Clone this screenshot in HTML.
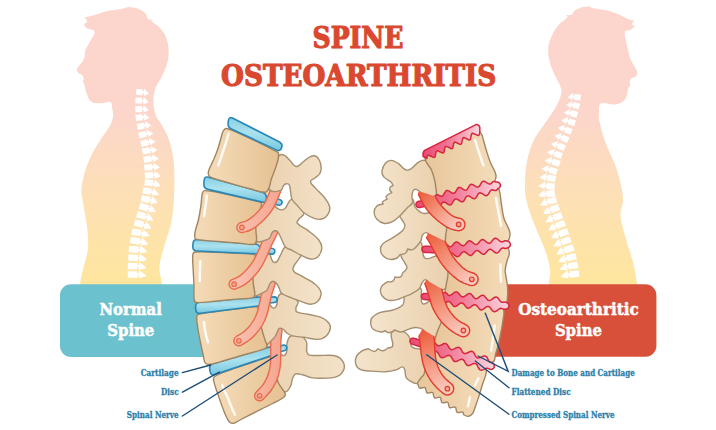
<!DOCTYPE html>
<html lang="en"><head><meta charset="utf-8"><title>Spine Osteoarthritis</title>
<style>
html,body{margin:0;padding:0;background:#fff}
svg{display:block}
.t{font-family:"DejaVu Serif Condensed","DejaVu Serif","Liberation Serif",serif;font-weight:bold}
.bone{fill:url(#gb);stroke:#a08563;stroke-width:1.4;stroke-linejoin:round}
.post{fill:url(#gp);stroke:#a59072;stroke-width:1.4;stroke-linejoin:round}
.disc{fill:url(#gd);stroke:#2b87b6;stroke-width:1.6;stroke-linejoin:round}
.nerve{fill:none;stroke-linecap:round}
.rdisc{fill:url(#gr);stroke:#d7263e;stroke-width:1.5;stroke-linejoin:round}
.rb{fill:url(#gbr)}
.rp{fill:url(#gpr)}
.lead{stroke:#1d4d78;stroke-width:1.4;fill:none;stroke-linecap:round}
.hl{fill:none;stroke:#fff;stroke-width:2.5;stroke-linecap:round;opacity:.85}
</style></head><body>
<svg width="716" height="430" viewBox="0 0 716 430">
<defs>
<linearGradient id="gs" x1="0" y1="0" x2="0" y2="1" gradientUnits="objectBoundingBox">
<stop offset="0" stop-color="#fcd6cd"/><stop offset=".38" stop-color="#fcd6cb"/><stop offset=".7" stop-color="#fde1b3"/><stop offset="1" stop-color="#fee69b"/>
</linearGradient>
<linearGradient id="gb" x1="0" y1="0" x2="1" y2="0">
<stop offset="0" stop-color="#f4dcb9"/><stop offset="1" stop-color="#e6c192"/>
</linearGradient>
<linearGradient id="gp" x1="0" y1="0" x2="1" y2="0">
<stop offset="0" stop-color="#ebd2b0"/><stop offset="1" stop-color="#f3e2ca"/>
</linearGradient>
<linearGradient id="gpr" x1="0" y1="0" x2="1" y2="0">
<stop offset="0" stop-color="#f4e4cd"/><stop offset="1" stop-color="#ead0ad"/>
</linearGradient>
<linearGradient id="gd" x1="0" y1="0" x2="0" y2="1">
<stop offset="0" stop-color="#86cfe4"/><stop offset=".45" stop-color="#abe2ef"/><stop offset="1" stop-color="#78c8df"/>
</linearGradient>
<linearGradient id="gn" gradientUnits="userSpaceOnUse" x1="230" y1="0" x2="285" y2="0"><stop offset="0" stop-color="#f9c4b4"/><stop offset="1" stop-color="#f5a38c"/></linearGradient>
<linearGradient id="gbr" x1="0" y1="0" x2="1" y2="0">
<stop offset="0" stop-color="#e8c69b"/><stop offset="1" stop-color="#f4dcba"/>
</linearGradient>
<linearGradient id="gr" x1="0" y1="0" x2="1" y2="0">
<stop offset="0" stop-color="#eb4a74"/><stop offset=".4" stop-color="#f0708f"/><stop offset="1" stop-color="#fbd6df"/>
</linearGradient>
</defs>
<rect width="716" height="430" fill="#fff"/>

<path d="M84.6 17.7C84.6 17.7 92 15.8 96.1 14.6C100.6 13.3 103.9 11.8 108.4 10.8C112.8 9.8 116.3 9.8 120.7 8.9C123.5 8.4 128.4 6.9 128.4 6.9C128.4 6.9 134.4 7.2 137.6 8.4C140.6 9.5 143 10.8 145.3 13.1C147 14.8 146.2 17.9 148.3 19.2C150 20.2 153.7 18.4 153.7 18.4C153.7 18.4 150.8 19.7 151.4 20.7C153.3 23.7 156.7 24.3 159.1 26.9C161.7 29.6 163.6 31.9 165.2 35.3C166.9 38.9 167.6 42.1 168.3 46.1C168.8 49.3 168.7 51.8 168.5 55C168.4 57.6 168.3 59.8 167.5 62.3C166 67.4 164.5 71.3 162.2 76.1C160.3 80.2 157.8 82.8 156 86.9C154.7 90 154.1 92.6 153.7 96C153.3 99.3 153.3 102 153.7 105.3C154.2 109.2 154.6 112.3 156 116C157.1 118.8 159.1 120.4 160.6 123C163.5 128.2 166.2 132.1 168.2 137.7C170.7 144.7 172.2 150.4 173.2 157.8C174.4 166.8 174.4 173.9 174.4 183C174.4 192 174 199 173.2 208C172.7 214.2 172.1 219 170.7 225C168.5 234.1 165.5 240.9 163.1 250C161.4 256.4 159.6 261.4 159.4 268C159.2 273.5 161.1 277.6 161.9 283C162.4 286.2 163 292 163 292C163 292 80 292 80 292C80 292 79.8 286.2 80.2 283C80.8 278.4 81.7 274.9 82.7 270.4C84.4 263.1 86.7 257.7 87.7 250.3C88.5 244 88.1 239 87.7 232.7C87.2 226.3 86.2 221.4 85.2 215C84.3 209.6 83.3 205.4 82.5 200C82 196.4 81.2 193.6 81.4 190C81.7 184.7 82.5 180.5 83.9 175.4C85.7 168.9 87.4 163.9 90.2 157.8C93.3 151.1 96.5 146.3 100.3 140C103.7 134.5 107.3 130.7 110.3 125C111.9 122 112.6 119.4 113 116C113.3 113.3 112.7 111.1 112.2 108.4C111.8 106.1 112.6 103.4 110.7 102.2C108.6 100.8 106.3 102.9 103.8 103C100.5 103.2 97.9 103.5 94.6 103C92.8 102.7 91.3 102 90 100.7C88.7 99.4 88.4 97.7 87.7 96C86.8 93.8 86.1 92.2 85.4 89.9C84.9 88.3 85 86.9 84.6 85.3C84.2 83.6 83.2 82.4 83 80.7C82.9 80.1 83.9 79.8 83.8 79.2C83.6 77.7 83.3 76.4 82.3 75.3C81.2 74.1 79.5 74.2 78.4 73C77.4 71.9 76.7 70.7 76.9 69.2C77.1 67.6 78.3 66.7 79.2 65.4C80.8 63.1 82.8 61.8 83.8 59.2C85.1 56.1 84.4 53.2 85.4 50C86.1 47.8 87.3 46.5 88.4 44.5C89.7 42.2 90.7 40.4 92 38C93 36.2 94.3 35 94.6 33C94.8 31.8 94.1 30.6 93 30C91.1 28.8 88.8 29.7 86.9 28.4C85.2 27.3 83.8 23.8 83.8 23.8C83.8 23.8 86.7 22.9 86.9 21.5C87.1 19.9 84.6 17.7 84.6 17.7Z" fill="url(#gs)"/>
<path d="M634.3 20.4C634.3 20.4 631.8 22.9 632 24.6C632.2 25.8 635.1 26.1 635.1 26.1C635.1 26.1 632.4 29 630.5 30C628.7 31 626 29.7 625.1 31.5C623.8 34.3 625.4 36.9 625.9 39.9C626.5 43.8 627.3 46.8 628.2 50.7C628.9 53.8 629.3 56.3 630.5 59.2C631.5 61.8 633 63.6 634.3 66.1C635.5 68.5 637.2 70.3 637.4 73C637.5 74.6 636.3 75.8 635.1 76.9C634 77.9 632.3 77.3 631.2 78.4C630.1 79.5 629.9 80.8 629.7 82.3C629.6 83.2 630.7 83.7 630.5 84.6C630.1 86.2 628.8 86.9 628.2 88.4C627.6 90 627.9 91.4 627.4 93C626.7 95.3 626.5 97.2 625.1 99.2C623.9 101 622.5 102.2 620.5 103C617.9 104.1 615.6 104.5 612.8 104.5C609.4 104.5 607 103 603.6 103C602.1 103 600.4 103.2 599.7 104.5C598.5 106.7 599.1 108.9 599 111.4C598.9 114.5 598.6 117 599.2 120C600.9 128.3 602.7 134.7 605.5 142.7C608.1 150.1 611.5 155.4 614.3 162.8C617 169.9 618.8 175.6 620.5 183C621.9 189.2 623 194.1 623 200.5C623 205.8 620.1 209.7 620.5 215C621.1 223.4 623.5 229.6 625.6 237.7C628 246.8 630.8 253.6 633.1 262.8C634.9 270 635.7 275.7 636.9 283C637.4 286.2 638 292 638 292C638 292 548 292 548 292C548 292 548.6 286.2 548.9 283C549.4 278.5 550.7 274.9 550.2 270.4C549.3 263 547.6 257.3 545.1 250.3C541.2 239.2 536.7 231.1 532.6 220C530 212.9 528 207.3 526.3 200C525.3 195.8 525 192.3 525 188C525 179.9 525 173.4 526.3 165.4C527.7 157 529.2 150.5 532.6 142.7C536 135 540.5 130 545.1 123C547.3 119.7 549.3 117.3 551.4 114C553.7 110.4 555.7 107.7 557.5 103.8C559.3 100.1 560.6 97.1 561.3 93C561.7 90.8 561.3 89 560.6 86.9C559.4 83.4 557.5 81 556 77.6C553.6 72.2 551.3 68.1 549.8 62.3C548.5 57.1 547.8 52.9 548.3 47.6C548.7 43 550.1 39.5 552.1 35.3C554 31.1 556.1 28.1 559 24.6C561.7 21.4 565.1 20.2 567.5 16.9C568 16.2 566 15 566 15C566 15 570.1 15.5 572.1 14.6C573.2 14.1 572.6 12.3 573.6 11.5C575.8 9.7 577.8 8.5 580.5 7.7C583.7 6.7 589.8 6.5 589.8 6.5C589.8 6.5 590.6 7.5 591.3 7.7C596.2 8.8 600.2 8.9 605.1 10C609.6 11.1 613.1 12.1 617.4 13.8C621.4 15.4 624.2 17.6 628.2 19.2C630.3 20 634.3 20.4 634.3 20.4Z" fill="url(#gs)"/>
<g fill="#fff"><path transform="translate(142.6 92.4) rotate(2.5) scale(1 1)" d="M-6.4 -3h6.4v5.9h-6.4zM-.2 -1.1H1.4V-3.7L3.5 -1.9L6.4 1.4L1.4 3.4V1.1H-.2Z"/><path transform="translate(142.1 100.7) rotate(1.8) scale(1 1)" d="M-6.6 -3h6.6v5.9h-6.6zM-.2 -1.1H1.4V-3.8L3.6 -1.9L6.6 1.4L1.4 3.4V1.1H-.2Z"/><path transform="translate(142.1 109) rotate(-1.2) scale(1 1)" d="M-6.7 -3h6.7v6h-6.7zM-.2 -1.1H1.4V-3.8L3.7 -1.9L6.7 1.4L1.4 3.4V1.1H-.2Z"/><path transform="translate(142.6 117.2) rotate(-6.4) scale(1 1)" d="M-6.9 -3h6.9v6h-6.9zM-.2 -1.1H1.4V-3.8L3.8 -1.9L6.9 1.4L1.4 3.5V1.1H-.2Z"/><path transform="translate(144.2 125.5) rotate(-11.8) scale(1 1)" d="M-7.1 -3h7.1v6h-7.1zM-.2 -1.1H1.4V-3.8L3.9 -2L7 1.4L1.4 3.5V1.1H-.2Z"/><path transform="translate(146 133.8) rotate(-13.8) scale(1 1)" d="M-7.3 -3h7.3v6.1h-7.3zM-.2 -1.1H1.4V-3.9L3.9 -2L7.2 1.4L1.4 3.5V1.1H-.2Z"/><path transform="translate(148.2 142.1) rotate(-13.8) scale(1 1)" d="M-7.4 -3h7.4v6.1h-7.4zM-.2 -1.1H1.4V-3.9L4 -2L7.3 1.4L1.4 3.5V1.1H-.2Z"/><path transform="translate(149.8 150.3) rotate(-10.4) scale(1 1)" d="M-7.6 -3.1h7.6v6.1h-7.6zM-.2 -1.1H1.4V-3.9L4.1 -2L7.5 1.4L1.4 3.6V1.1H-.2Z"/><path transform="translate(151.3 158.6) rotate(-9) scale(1 1)" d="M-7.8 -3.1h7.8v6.2h-7.8zM-.2 -1.1H1.4V-3.9L4.2 -2L7.6 1.4L1.4 3.6V1.1H-.2Z"/><path transform="translate(152.2 166.9) rotate(-5.9) scale(1 1)" d="M-8 -3.1h8v6.2h-8zM-.2 -1.1H1.4V-4L4.3 -2L7.8 1.4L1.4 3.6V1.1H-.2Z"/><path transform="translate(153 175.2) rotate(-3.3) scale(1 1)" d="M-8.1 -3.1h8.1v6.2h-8.1zM-.2 -1.1H1.4V-4L4.4 -2L7.9 1.4L1.4 3.6V1.1H-.2Z"/><path transform="translate(152.9 183.4) rotate(8.4) scale(1 1)" d="M-8.3 -3.1h8.3v6.3h-8.3zM-.2 -1.1H1.4V-4L4.4 -2L8.1 1.5L1.4 3.6V1.1H-.2Z"/><path transform="translate(151.2 191.7) rotate(10) scale(1 1)" d="M-8.5 -3.1h8.5v6.3h-8.5zM-.2 -1.1H1.4V-4L4.5 -2.1L8.2 1.5L1.4 3.7V1.1H-.2Z"/><path transform="translate(149.8 200) rotate(10.9) scale(1 1)" d="M-8.7 -3.2h8.7v6.3h-8.7zM-.2 -1.1H1.4V-4.1L4.6 -2.1L8.4 1.5L1.4 3.7V1.1H-.2Z"/><path transform="translate(148 208.3) rotate(16) scale(1 1)" d="M-8.8 -3.2h8.8v6.4h-8.8zM-.2 -1.1H1.4V-4.1L4.7 -2.1L8.5 1.5L1.4 3.7V1.1H-.2Z"/><path transform="translate(145.6 216.6) rotate(15.7) scale(1 1)" d="M-9 -3.2h9v6.4h-9zM-.2 -1.1H1.4V-4.1L4.8 -2.1L8.7 1.5L1.4 3.7V1.1H-.2Z"/><path transform="translate(143.3 224.8) rotate(15.8) scale(1 1)" d="M-9.2 -3.2h9.2v6.4h-9.2zM-.2 -1.1H1.4V-4.1L4.9 -2.1L8.8 1.5L1.4 3.7V1.1H-.2Z"/><path transform="translate(141.1 233.1) rotate(9.8) scale(1 1)" d="M-9.4 -3.2h9.4v6.5h-9.4zM-.2 -1.1H1.4V-4.1L4.9 -2.1L9 1.5L1.4 3.8V1.1H-.2Z"/><path transform="translate(139.7 241.4) rotate(9.7) scale(1 1)" d="M-9.5 -3.2h9.5v6.5h-9.5zM-.2 -1.1H1.4V-4.2L5 -2.1L9.1 1.5L1.4 3.8V1.1H-.2Z"/><path transform="translate(138.4 249.7) rotate(5.1) scale(1 1)" d="M-9.6 -3.2h9.6v6.5h-9.6zM-.2 -1.1H1.4V-4.2L5.1 -2.1L9.2 1.5L1.4 3.8V1.1H-.2Z"/><path transform="translate(137.9 257.9) rotate(3.4) scale(1 1)" d="M-9.6 -3.2h9.6v6.5h-9.6zM-.2 -1.1H1.4V-4.2L5.1 -2.1L9.2 1.5L1.4 3.8V1.1H-.2Z"/><path transform="translate(137.4 266.2) rotate(1.4) scale(1 1)" d="M-9.6 -3.2h9.6v6.5h-9.6zM-.2 -1.1H1.4V-4.2L5.1 -2.1L9.2 1.5L1.4 3.8V1.1H-.2Z"/><path transform="translate(137.4 274.5) rotate(-0) scale(1 1)" d="M-9.6 -3.2h9.6v6.5h-9.6zM-.2 -1.1H1.4V-4.2L5.1 -2.1L9.2 1.5L1.4 3.8V1.1H-.2Z"/></g>
<g fill="#fff"><path transform="translate(574.2 96.9) rotate(6.7) scale(-1 1)" d="M-6.4 -3h6.4v5.9h-6.4zM-.2 -1.1H1.4V-3.7L3.5 -1.9L6.4 1.4L1.4 3.4V1.1H-.2Z"/><path transform="translate(573 105) rotate(11.7) scale(-1 1)" d="M-6.6 -3h6.6v5.9h-6.6zM-.2 -1.1H1.4V-3.8L3.6 -1.9L6.6 1.4L1.4 3.4V1.1H-.2Z"/><path transform="translate(570.8 113) rotate(15.7) scale(-1 1)" d="M-6.7 -3h6.7v6h-6.7zM-.2 -1.1H1.4V-3.8L3.7 -1.9L6.7 1.4L1.4 3.4V1.1H-.2Z"/><path transform="translate(568.5 121.1) rotate(19) scale(-1 1)" d="M-6.9 -3h6.9v6h-6.9zM-.2 -1.1H1.4V-3.8L3.8 -1.9L6.9 1.4L1.4 3.5V1.1H-.2Z"/><path transform="translate(565 129.2) rotate(23.3) scale(-1 1)" d="M-7.1 -3h7.1v6h-7.1zM-.2 -1.1H1.4V-3.8L3.9 -2L7 1.4L1.4 3.5V1.1H-.2Z"/><path transform="translate(561.6 137.3) rotate(23.2) scale(-1 1)" d="M-7.3 -3h7.3v6.1h-7.3zM-.2 -1.1H1.4V-3.9L3.9 -2L7.2 1.4L1.4 3.5V1.1H-.2Z"/><path transform="translate(558.1 145.3) rotate(23.3) scale(-1 1)" d="M-7.4 -3h7.4v6.1h-7.4zM-.2 -1.1H1.4V-3.9L4 -2L7.3 1.4L1.4 3.5V1.1H-.2Z"/><path transform="translate(554.7 153.4) rotate(21) scale(-1 1)" d="M-7.6 -3.1h7.6v6.1h-7.6zM-.2 -1.1H1.4V-3.9L4.1 -2L7.5 1.4L1.4 3.6V1.1H-.2Z"/><path transform="translate(552.3 161.5) rotate(17.2) scale(-1 1)" d="M-7.8 -3.1h7.8v6.2h-7.8zM-.2 -1.1H1.4V-3.9L4.2 -2L7.6 1.4L1.4 3.6V1.1H-.2Z"/><path transform="translate(549.3 169.6) rotate(17.9) scale(-1 1)" d="M-8 -3.1h8v6.2h-8zM-.2 -1.1H1.4V-4L4.3 -2L7.8 1.4L1.4 3.6V1.1H-.2Z"/><path transform="translate(547.6 177.6) rotate(10.6) scale(-1 1)" d="M-8.1 -3.1h8.1v6.2h-8.1zM-.2 -1.1H1.4V-4L4.4 -2L7.9 1.4L1.4 3.6V1.1H-.2Z"/><path transform="translate(546.5 185.7) rotate(7) scale(-1 1)" d="M-8.3 -3.1h8.3v6.3h-8.3zM-.2 -1.1H1.4V-4L4.4 -2L8.1 1.5L1.4 3.6V1.1H-.2Z"/><path transform="translate(546.3 193.8) rotate(-4.1) scale(-1 1)" d="M-8.5 -3.1h8.5v6.3h-8.5zM-.2 -1.1H1.4V-4L4.5 -2.1L8.2 1.5L1.4 3.7V1.1H-.2Z"/><path transform="translate(548 201.8) rotate(-14.6) scale(-1 1)" d="M-8.7 -3.2h8.7v6.3h-8.7zM-.2 -1.1H1.4V-4.1L4.6 -2.1L8.4 1.5L1.4 3.7V1.1H-.2Z"/><path transform="translate(550.7 209.9) rotate(-18.9) scale(-1 1)" d="M-8.8 -3.2h8.8v6.4h-8.8zM-.2 -1.1H1.4V-4.1L4.7 -2.1L8.5 1.5L1.4 3.7V1.1H-.2Z"/><path transform="translate(553.4 218) rotate(-18.6) scale(-1 1)" d="M-9 -3.2h9v6.4h-9zM-.2 -1.1H1.4V-4.1L4.8 -2.1L8.7 1.5L1.4 3.7V1.1H-.2Z"/><path transform="translate(556.1 226.1) rotate(-19.6) scale(-1 1)" d="M-9.2 -3.2h9.2v6.4h-9.2zM-.2 -1.1H1.4V-4.1L4.9 -2.1L8.8 1.5L1.4 3.7V1.1H-.2Z"/><path transform="translate(559.1 234.1) rotate(-17.9) scale(-1 1)" d="M-9.4 -3.2h9.4v6.5h-9.4zM-.2 -1.1H1.4V-4.1L4.9 -2.1L9 1.5L1.4 3.8V1.1H-.2Z"/><path transform="translate(561.5 242.2) rotate(-18.6) scale(-1 1)" d="M-9.5 -3.2h9.5v6.5h-9.5zM-.2 -1.1H1.4V-4.2L5 -2.1L9.1 1.5L1.4 3.8V1.1H-.2Z"/><path transform="translate(564.5 250.3) rotate(-17.7) scale(-1 1)" d="M-9.6 -3.2h9.6v6.5h-9.6zM-.2 -1.1H1.4V-4.2L5.1 -2.1L9.2 1.5L1.4 3.8V1.1H-.2Z"/><path transform="translate(566.7 258.4) rotate(-13.7) scale(-1 1)" d="M-9.6 -3.2h9.6v6.5h-9.6zM-.2 -1.1H1.4V-4.2L5.1 -2.1L9.2 1.5L1.4 3.8V1.1H-.2Z"/><path transform="translate(568.4 266.4) rotate(-9.8) scale(-1 1)" d="M-9.6 -3.2h9.6v6.5h-9.6zM-.2 -1.1H1.4V-4.2L5.1 -2.1L9.2 1.5L1.4 3.8V1.1H-.2Z"/><path transform="translate(569.5 274.5) rotate(-5.8) scale(-1 1)" d="M-9.6 -3.2h9.6v6.5h-9.6zM-.2 -1.1H1.4V-4.2L5.1 -2.1L9.2 1.5L1.4 3.8V1.1H-.2Z"/></g>
<path d="M71 284.3H215V357H71a11 11 0 0 1-11-11V295.3a11 11 0 0 1 11-11z" fill="#6bc1cd"/>
<path d="M470 284.3H645.4a11 11 0 0 1 11 11V345.7a11 11 0 0 1-11 11H470z" fill="#d9503a"/>
<g id="left-spine">
<path class="post" d="M282.9 355.5C284.5 355.9 285.9 354.2 286.4 352.7C287.5 349.3 286.3 346.4 287.1 342.9C287.6 340.5 287.9 338.1 289.9 336.6C292.3 334.9 295 334.7 298 335C300.4 335.2 302.1 336.4 303.9 338C305.4 339.4 306.3 340.9 306.7 342.9C307.3 345.9 306.2 348.3 306.7 351.3C307 352.7 307.4 354.3 308.8 354.8C311.8 356 314.6 355.4 317.8 355.5C323.3 355.7 327.7 354.8 333.2 355.5C335.9 355.8 338.3 356.4 340.2 358.3C342.6 360.6 344.4 363.2 344.4 366.5C344.4 369.8 342.6 372.4 340.2 374.8C338.3 376.7 335.9 377.2 333.2 377.6C328.2 378.4 324.2 378.3 319.2 378.3C316.2 378.3 313.8 378.2 310.9 377.6C307.8 376.9 305.6 375.5 302.5 374.8C300 374.2 297.8 373 295.5 374C293.5 374.8 293.2 377 292.4 379C291.4 381.4 291.9 383.7 290.6 386C289.1 388.6 287.9 392.2 285 392C280.9 391.7 277.8 388.7 276 385C272.2 377.3 272.2 370.3 270 362C268.6 356.6 265.5 352.6 266 347C266.3 344 269.1 340.2 272 341C275.6 342 274.8 347 277 350C278.7 352.3 280.1 354.7 282.9 355.5Z"/>
<path class="bone" d="M213.5 380C213.3 378.7 213.6 377.2 214.8 376.5C219.9 373.4 224.4 372.2 230 370.1C237.1 367.4 242.8 365.7 250 363.3C256.5 361.1 261.4 359.2 268 357.4C269.4 357 271.2 356.1 272 357.3C274.1 360.7 273.6 364.2 274.5 368C275.8 373.3 276.4 377.5 278.2 382.6C279 384.8 280.4 386.2 281.7 388.2C283 390.2 284.7 391.4 285.2 393.7C285.5 395 284.9 396.4 283.8 397.2C280.1 400 276.7 401.3 272.6 403.5C266.6 406.6 261.9 408.9 255.9 411.9C250.2 414.8 245.7 417.1 240 420C237.7 421.2 236.1 422.9 233.5 423.3C231.8 423.5 230.1 422.9 229 421.5C226.3 418 225.4 414.6 223.7 410.5C221.5 405.1 220.1 400.7 218.2 395.1C216.4 389.7 214.5 385.6 213.5 380Z"/>
<path class="hl" d="M222.3 385.4C223.2 387.6 223.8 389.3 224.8 391.5C225.8 393.8 226.9 395.5 227.9 397.9C229.1 400.8 229.8 403.1 231 406C232.3 409.2 233.5 411.6 234.9 414.7"/>
<path class="disc" d="M269.7 354.6L284.9 350.4A2.8 2.8 0 0 0 283.5 345L268.3 349.2A2.8 2.8 0 0 0 269.7 354.6Z"/>
<path class="disc" d="M209.7 369Q209 364.7 213.3 363.4L267.8 347.4Q272 346.2 272.8 350.5L272.8 350.5Q273.5 354.8 269.3 356.2L214.9 374.5Q210.7 375.9 210.1 371.5Z"/>
<path class="nerve" d="M277 331C276.8 332.3 276.5 333.3 276.4 334.6C276 338.5 275.8 341.5 275.7 345.4C275.6 349.8 275.9 353.2 275.7 357.6C275.6 361.5 275.6 364.6 274.9 368.4C274.2 372.3 273.4 375.4 271.8 379.1C270.3 382.6 268.8 385.2 266.5 388.3C264.3 391.3 262.1 393.1 259.6 395.8" stroke="#e96b4c" stroke-width="11.4"/><path class="nerve" d="M277 331C276.8 332.3 276.5 333.3 276.4 334.6C276 338.5 275.8 341.5 275.7 345.4C275.6 349.8 275.9 353.2 275.7 357.6C275.6 361.5 275.6 364.6 274.9 368.4C274.2 372.3 273.4 375.4 271.8 379.1C270.3 382.6 268.8 385.2 266.5 388.3C264.3 391.3 262.1 393.1 259.6 395.8" stroke="url(#gn)" stroke-width="8.6"/><circle cx="259.6" cy="395.8" r="2.3" fill="#f6a488" stroke="#e96b4c" stroke-width="1.2"/>
<path class="post" d="M275 307.7C279 304.5 275.7 297.4 279.9 294.4C283 292.2 286.5 295.6 290 297C293.1 298.2 296.4 298.5 298 301.4C299.2 303.5 296.3 305.3 296 307.7C295.8 309.2 295.4 311.2 296.7 311.9C300.3 313.9 303.8 313.3 307.8 314.2C312.4 315.2 316 315.6 320.4 317.2C323.2 318.2 325.4 319.4 327.4 321.5C329.1 323.3 330.6 325.2 330.4 327.6C330.1 330.9 328.6 333.6 326.2 335.9C323.8 338.1 321.1 339.2 317.8 339.4C312.7 339.7 308.9 338 303.9 337.3C299.9 336.7 296.6 336.9 292.7 335.9C290.5 335.4 288.9 334.5 287.1 333.2C285.4 332 284.7 330.1 282.9 329C281.8 328.3 280.6 327.9 279.4 328.3C278.5 328.5 278.4 329.6 278 330.4C276.5 333.1 276.3 335.9 274 338C270.3 341.4 264.8 349.1 262 345C255.1 335.1 257.2 324 256 312C255.4 306.3 254.5 301.2 257 296C258.6 292.7 262.9 289.7 266 291.5C269.7 293.7 266.9 299.3 269 303C270.3 305.4 272.8 309.4 275 307.7Z"/>
<path class="bone" d="M196.7 317.5C196.7 316.2 197.3 314.8 198.5 314.4C204.2 312.6 209 312.6 215 311.8C224 310.5 231 309.8 240 308.6C245.6 307.9 249.9 306.8 255.5 306.6C256.5 306.6 257.7 306.9 258 307.8C259.2 311.3 258.8 314.3 259.5 318C260.3 322.3 260.9 325.7 262 330C262.9 333.6 263.9 336.4 265 340C265.7 342.2 267.1 343.7 267 346C266.9 347.4 265.8 348.4 264.5 348.9C257.7 351.5 252 352.5 245 354.5C236 357.1 229 359.3 220 361.8C216.1 362.9 213.1 364.3 209 364.5C207.4 364.6 205.8 363.9 205 362.5C203.6 360.1 203.8 357.7 203.2 355C202.4 351.4 201.7 348.6 201 345C200 340 199.1 336.1 198.3 331C197.5 326.2 196.6 322.4 196.7 317.5Z"/>
<path class="hl" d="M203.9 322C204.2 324.5 204.4 326.5 204.8 329C205.2 331.5 205.6 333.5 206.2 336C206.8 338.3 207.4 340 208 342.3"/>
<path class="disc" d="M258.6 304.3L274.5 302.5A2.8 2.8 0 0 0 273.9 296.9L258 298.7A2.8 2.8 0 0 0 258.6 304.3Z"/>
<path class="disc" d="M195.6 307.1Q195.3 302.7 199.7 302.3L257.6 297.1Q262 296.7 262 301.1L262 301.1Q262 305.5 257.6 306L200.4 313.2Q196 313.8 195.7 309.4Z"/>
<path class="nerve" d="M270.8 279.5C270.7 280.6 270.7 281.5 270.4 282.6C269.4 286 268.3 288.4 267.3 291.8C266.2 295.6 265.6 298.7 264.7 302.6C263.8 306.4 263.4 309.5 262.2 313.3C261.1 316.7 259.9 319.4 258.1 322.5C256.2 325.8 254.4 328.2 251.9 331C249.7 333.5 247.6 335.1 245 337.1C242.9 338.6 241.1 339.5 238.9 340.8" stroke="#e96b4c" stroke-width="11.4"/><path class="nerve" d="M270.8 279.5C270.7 280.6 270.7 281.5 270.4 282.6C269.4 286 268.3 288.4 267.3 291.8C266.2 295.6 265.6 298.7 264.7 302.6C263.8 306.4 263.4 309.5 262.2 313.3C261.1 316.7 259.9 319.4 258.1 322.5C256.2 325.8 254.4 328.2 251.9 331C249.7 333.5 247.6 335.1 245 337.1C242.9 338.6 241.1 339.5 238.9 340.8" stroke="url(#gn)" stroke-width="8.6"/><circle cx="238.9" cy="340.8" r="2.3" fill="#f6a488" stroke="#e96b4c" stroke-width="1.2"/>
<path class="post" d="M275 262.5C278.4 262.1 278.7 257.6 280.6 254.8C282.5 252.1 282.4 248.1 285.5 247.1C289.2 245.9 292.6 248.1 296 250C298.3 251.3 300.1 253 300.9 255.5C301.3 256.9 299.5 257.7 298.8 259C296.7 262.8 292.5 265.4 293 269.7C293.4 273.2 297.9 273.7 300.9 275.6C304.8 278.1 308.2 279.3 312 281.9C314.8 283.8 317 285.5 319 288.2C320.4 290.1 321.3 292.1 321.1 294.4C320.8 297.2 319.7 299.5 317.6 301.4C315.6 303.3 313.3 304.2 310.6 304.2C307 304.2 304.3 302.6 300.9 301.4C296.8 300 293.7 298.9 289.7 297.2C286.6 295.9 283.9 295.2 281.3 293C279.9 291.8 280.1 289.9 279.2 288.2C278.3 286.4 277.8 284.8 276.4 283.3C275.4 282.2 274.4 281.2 272.9 281.2C271.6 281.2 270.8 282.3 270.1 283.3C268.3 285.9 268.7 289.4 266 291C261.6 293.6 254.2 298.6 252 294C247 283.6 250.9 273.5 252 262C252.7 254.3 252.7 247.5 257 241C259.3 237.6 265.3 234.9 268 238C272.4 242.9 268.7 249.7 270.5 256C271.3 258.7 272.2 262.8 275 262.5Z"/>
<path class="bone" d="M192.8 255C192.9 253.7 193.7 252.2 195 252C202.1 251.1 207.8 252.1 215 252.3C224 252.6 231 253 240 253.4C244.7 253.6 248.4 253.4 253 254.1C254 254.3 255.3 254.8 255.3 255.8C255.5 260.2 254 263.6 253.5 268C253.2 270.9 252.9 273.1 252.9 276C252.9 279.2 253.2 281.8 253.5 285C253.8 288.3 254.9 290.7 254.8 294C254.7 295.5 254.4 297.2 253 297.7C248.5 299.2 244.7 298.5 240 298.9C231 299.7 224 300.4 215 301.2C208.9 301.7 204.1 302.7 198 302.6C196.6 302.6 194.8 302.4 194.5 301C193.2 295.4 194.2 290.8 194 285C193.8 279.6 193.4 275.4 193.2 270C193 264.6 192.3 260.4 192.8 255Z"/>
<path class="hl" d="M200.4 261.3C200.3 263.7 200.1 265.6 200 268C199.9 270.5 199.9 272.5 199.8 275C199.8 277.2 199.7 278.8 199.7 281"/>
<path class="disc" d="M256.5 252L271.6 254.1A2.8 2.8 0 0 0 272.4 248.5L257.3 246.4A2.8 2.8 0 0 0 256.5 252Z"/>
<path class="disc" d="M193 243.5Q193.2 239.1 197.6 239.5L255.6 244.2Q260 244.6 260 249L260 249.6Q260 254 255.6 253.8L197 251Q192.6 250.8 192.8 246.4Z"/>
<path class="nerve" d="M273 229.5C272.7 230.7 272.7 231.6 272.2 232.7C270.7 236.1 269.2 238.5 267.6 241.9C265.8 245.7 264.8 248.8 263 252.6C261.2 256.5 259.9 259.7 257.6 263.4C255.4 266.9 253.5 269.5 250.7 272.6C247.9 275.6 245.7 278 242.3 280.3C239.6 282.2 237.1 282.8 234.1 284.2" stroke="#e96b4c" stroke-width="11.4"/><path class="nerve" d="M273 229.5C272.7 230.7 272.7 231.6 272.2 232.7C270.7 236.1 269.2 238.5 267.6 241.9C265.8 245.7 264.8 248.8 263 252.6C261.2 256.5 259.9 259.7 257.6 263.4C255.4 266.9 253.5 269.5 250.7 272.6C247.9 275.6 245.7 278 242.3 280.3C239.6 282.2 237.1 282.8 234.1 284.2" stroke="url(#gn)" stroke-width="8.6"/><circle cx="234.1" cy="284.2" r="2.3" fill="#f6a488" stroke="#e96b4c" stroke-width="1.2"/>
<path class="post" d="M278.7 209.2C280.8 210.2 283.2 209.9 285 208.5C288.1 206.1 287.6 200.8 291.3 199.4C294.5 198.2 297.7 200.5 300 203C302.7 206 304.1 209.4 303.9 213.4C303.7 216.1 300.5 216.8 299 219C298.1 220.3 296.2 221.8 297.2 223C300 226.7 304.1 227.5 307.8 230.4C312 233.7 315.7 236 319 240.2C320.9 242.7 322.1 245.4 321.8 248.5C321.5 251.9 320.1 254.6 317.6 256.9C315.7 258.7 313.2 259.3 310.6 259C306.9 258.6 304.3 256.7 300.9 255.1C297.8 253.7 295.5 252.2 292.5 250.6C290 249.3 287.5 248.9 285.5 246.9C283.6 245 283.2 242.6 282 240.2C280.5 237.2 279.8 234.5 277.8 231.8C277.2 230.9 276.1 230.6 275 230.7C273.8 230.8 272.9 231.6 272.2 232.5C270.6 234.5 271.1 237.8 268.7 238.8C264.2 240.8 257.5 244.3 255 240C250.5 232.2 253.8 223.9 255 215C255.6 210.7 258.5 208.1 260 204C261.7 199.4 261 194.9 264 191C265.6 188.9 269.5 187.4 271 189.5C273.9 193.4 271.2 198.4 273 203C274.1 205.8 275.9 207.9 278.7 209.2Z"/>
<path class="bone" d="M202.3 193.5C202.6 192.3 203 190.7 204.3 190.6C210 190.4 214.4 191.7 220 192.8C227.3 194.2 232.8 195.6 240 197.3C246.5 198.8 251.6 199.8 258 201.6C259.4 202 261.4 202.1 261.5 203.5C261.8 207.4 260 210.2 259 214C258 217.6 256.6 220.3 256 224C255.5 226.8 255.9 229.1 256 232C256.1 234.9 256.9 237.1 256.5 240C256.3 241.7 256.1 243.9 254.5 244.2C249.4 245.2 245.2 243.6 240 243.2C231 242.5 224 241.9 215 241.2C208.9 240.7 204.1 240.8 198 239.8C196.8 239.6 195.4 239.2 195 238C194.3 235.6 194.8 233.5 195.3 231C196.1 227 197.5 224 198.4 220C199.6 214.6 200.2 210.4 201 205C201.6 200.9 201.4 197.6 202.3 193.5Z"/>
<path class="hl" d="M206.8 195.5C206.5 198.2 206.4 200.3 206 203C205.7 205.5 205.2 207.5 204.8 210C204.5 212.2 204.3 213.8 204 216"/>
<path class="disc" d="M261.3 200.9L278.8 205.2A2.8 2.8 0 0 0 280.2 199.8L262.7 195.5A2.8 2.8 0 0 0 261.3 200.9Z"/>
<path class="disc" d="M204.1 180.5Q204.3 176.1 208.6 177.2L262.2 192.2Q266.4 193.4 266.4 197.8L266.4 198.6Q266.4 203 262.1 202L208 189.4Q203.7 188.4 203.9 184Z"/>
<path class="nerve" d="M276.5 187C276.2 188.2 276.1 189.2 275.7 190.4C274.7 193.2 273.8 195.3 272.6 198C271.1 201.4 270 204.1 268 207.2C266.1 210.2 264.2 212.3 261.8 214.9C259.3 217.6 257.1 219.5 254.2 221.8C252.1 223.4 250.4 224.6 248 225.7C245.9 226.7 244.1 226.9 241.9 227.5" stroke="#e96b4c" stroke-width="11.4"/><path class="nerve" d="M276.5 187C276.2 188.2 276.1 189.2 275.7 190.4C274.7 193.2 273.8 195.3 272.6 198C271.1 201.4 270 204.1 268 207.2C266.1 210.2 264.2 212.3 261.8 214.9C259.3 217.6 257.1 219.5 254.2 221.8C252.1 223.4 250.4 224.6 248 225.7C245.9 226.7 244.1 226.9 241.9 227.5" stroke="url(#gn)" stroke-width="8.6"/><circle cx="241.9" cy="227.5" r="2.3" fill="#f6a488" stroke="#e96b4c" stroke-width="1.2"/>
<path class="post" d="M279.3 155.4C280.6 154.3 282.5 154.5 284 155.2C286.6 156.4 287.9 158.5 290 160.5C292.3 162.6 293 166.1 296.1 166.5C299 166.8 300.6 163.7 303 162C305.6 160.2 307.2 158.1 310 156.8C311.8 155.9 313.7 155.3 315.6 156C317.6 156.8 318.6 158.6 319.5 160.5C320.7 163 321.1 165.2 321.2 168C321.2 170 320.9 171.8 319.8 173.5C318.6 175.5 316.8 176.5 315 178C313.4 179.3 310.5 179.4 310.5 181.5C310.5 184.2 313.2 185.5 315 187.6C318.4 191.5 321.7 193.9 324.8 198C327 201 329.1 203.4 329.7 207.1C330.2 209.9 329.2 212.4 327.6 214.8C326.2 216.9 324.4 218.3 322 219C319.6 219.7 317.4 219.4 315 218.6C310.7 217.1 307.5 215.4 303.9 212.7C300.9 210.4 299.4 207.8 296.9 205C295.1 203 293.2 201.8 292 199.4C290.8 196.9 291.1 194.5 290.6 191.8C290.1 189.3 290.4 187.1 289.2 184.8C288.7 183.8 287.5 183.6 286.4 183.7C285.2 183.8 284.4 184.6 283.6 185.5C282.3 187.1 282.7 189.8 280.8 190.4C277.1 191.6 272.5 193 270 190C266.5 185.8 267.6 180.4 268 175C268.3 171.1 270.1 168.4 272 165C274.2 161.2 275.9 158.1 279.3 155.4Z"/>
<path class="bone" d="M223.2 131C223.9 129.7 225 128.3 226.5 128.5C231.7 129.4 235.2 131.7 240 133.8C247.3 137 252.9 139.6 260 143.1C265.1 145.6 269 147.6 274 150.3C275.6 151.2 277.8 151.3 278.3 153C279.2 156 278.2 158.6 277.5 161.7C276.8 164.8 275.8 167 274.7 170C273.4 173.6 272.2 176.3 271 180C270.2 182.5 270.4 184.6 269.3 187C268.3 189.1 267.8 192 265.5 192.2C259.8 192.7 255.5 190.2 250 188.8C242.8 187 237.2 185.3 230 183.2C223.9 181.4 219 180.3 213 178.2C211.4 177.6 209.9 177.2 209 175.8C208.1 174.3 208.1 172.7 208.6 171C209.6 167.2 211.5 164.6 213 161C214.7 157.1 216.1 154 217.5 150C219 145.7 219.7 142.3 221 138C221.8 135.5 221.9 133.3 223.2 131Z"/>
<path class="hl" d="M228.6 133.5C227.8 136.2 227.3 138.3 226.5 141C225.5 144.3 224.6 146.8 223.5 150C222.4 153.2 221.6 155.8 220.5 159C219.7 161.3 219 163.2 218.2 165.5"/>
<path class="disc" d="M228.4 120.7Q229 116.3 232.9 118.3L279.1 141.7Q283 143.7 281.6 147.8L281.6 147.8Q280.3 151.8 276.3 149.9L231.5 129.1Q227.5 127.2 228.1 122.8Z"/>
</g>
<g id="right-spine">
<path class="post rp" d="M391.3 333.4C389.9 337.7 393.8 341.6 392.7 346C392.3 347.9 387.8 348 387.8 348C387.8 348 384.9 350.7 382.9 350.8C381 350.9 378 348.7 378 348.7C378 348.7 376.2 351.5 374.6 351.5C372.1 351.5 368.3 348.7 368.3 348.7C368.3 348.7 364 349.5 362 350.8C359.6 352.3 357.6 353.8 356.4 356.4C355.2 358.9 354.9 361.4 355.7 364.1C356.5 366.7 358.1 368.6 360.6 369.7C364.3 371.3 367.8 370.8 371.8 371.1C376.8 371.5 380.7 372.1 385.7 371.8C389.8 371.6 393 370.8 396.9 369.7C399.1 369.1 400.2 366.8 402.5 366.9C403.9 367 404.3 368.7 404.8 370C405.7 372.7 404.8 375.3 406.2 377.7C407.5 379.9 409.6 380.7 411.8 381.9C413.6 382.9 415.3 384 417.3 383.5C420.9 382.5 423.9 381.1 426 378C429.5 372.9 431.2 368.1 432 362C432.7 357 433.5 351.7 430 348C427.5 345.3 423.6 349.3 420 349C416.8 348.7 413.7 348.8 411.5 346.5C409.6 344.5 411.2 341.5 410.2 339C409.2 336.6 408.1 334.6 406 333C403.5 331.2 401.1 329.9 398 330C395.3 330.1 392.2 330.8 391.3 333.4Z"/>
<path class="bone rb" d="M428 350C430.9 346.8 435.7 348.8 440 349.5C447.4 350.8 452.8 353.3 460 355.5C467.2 357.8 473.1 358.9 480 362C482.4 363.1 484.2 364.6 485.5 367C486.6 369.1 486.5 371.2 486.1 373.5C485.4 377.4 483.8 380.2 482.6 384C481 389 480 392.9 478.4 397.9C477.1 401.9 475.9 405 474.5 409C473.9 410.6 473.8 412 472.8 413.3C471.7 414.7 470.5 416 468.7 416.3C466.9 416.6 465.3 415.8 463.8 414.7C463 414.1 463.7 412.6 462.8 412.1C462 411.5 461 412.2 460 412.3C459 412.3 458.1 413 457.2 412.5C456.3 411.9 456.6 410.8 456.2 409.8C455.9 408.9 456.1 407.7 455.3 407.2C454.4 406.6 453.5 407.3 452.4 407.4C451.4 407.4 450.5 408.1 449.6 407.6C448.8 407 449 405.9 448.7 404.9C448.3 404 448.6 402.8 447.7 402.3C446.8 401.7 445.9 402.4 444.9 402.5C443.9 402.6 442.9 403.2 442.1 402.7C441.2 402.1 441.4 401 441.1 400C440.8 399.1 441 398 440.1 397.4C439.3 396.9 438.3 397.5 437.3 397.6C436.3 397.7 435.4 398.4 434.5 397.8C433.6 397.3 433.9 396.1 433.5 395.2C433.2 394.2 433.4 393.1 432.6 392.5C431.7 392 430.8 392.7 429.8 392.7C428.7 392.8 427.8 393.5 426.9 392.9C426.1 392.4 426.3 391.2 426 390.3C425.6 389.3 425.9 388.2 425 387.6C424.1 387.1 423.2 387.8 422.2 387.8C421.2 387.9 420.2 388.6 419.4 388C418.5 387.5 418.8 386.4 418.4 385.4C418.1 384.5 417.2 383.9 417.5 383C418.2 380.9 419.7 379.8 421 378C422 376.6 423.4 375.8 424 374.2C425.2 371 425.4 368.3 426 365C426.9 359.6 424.3 354 428 350Z"/>
<path class="hl" d="M478.4 378.4C477.1 380.9 476.2 382.9 474.9 385.4"/>
<path class="hl" d="M470 397.2C469.3 400.5 468.7 403 468 406.3"/>
<path class="post rp" d="M404.1 298.2C404 300.7 404.4 303.3 402.7 305.1C400 308 396.7 308.8 392.9 310C388 311.6 383.8 311 379 312.8C376.1 313.9 373.9 315.3 372 317.7C370.7 319.3 370.4 321.2 370.6 323.3C370.8 325.6 371.4 327.8 373.2 329.2C375.7 331.2 378.4 331.6 381.5 332C382.8 332.2 385 330.6 385 330.6C385 330.6 387.5 332.8 389.2 332.7C391.4 332.5 394.8 329.9 394.8 329.9C394.8 329.9 398.7 332.1 401.1 332C404 331.9 406 330.1 408.8 329.2C411.3 328.4 413.3 327.4 416 327.5C418.6 327.6 420.9 328 423 329.6C426.1 332 426.8 335.7 430 338C433.1 340.3 437.4 344.9 440 342C445.5 335.9 445.2 328.2 446 320C446.6 313.5 447.7 307.3 444 302C441.5 298.4 436.4 299.6 432 300C428.5 300.3 426.3 305 423 303.8C420.3 302.8 421.7 298.8 421.3 296C420.9 293.3 422.6 290.5 420.8 288.5C418.6 286.1 415 284.7 412 286C407.5 287.9 405.6 291.9 403 296C402.5 296.7 404.1 297.3 404.1 298.2Z"/>
<path class="bone rb" d="M444.5 298C449 294.7 454.4 299.3 460 300C467.2 300.9 472.8 301.5 480 302.5C487.2 303.5 493.1 303.3 500 305.5C502 306.1 503.4 307.9 503.8 310C504.5 313.5 503.5 316.4 503 320C502.4 324.3 501.8 327.7 501 332C500.1 336.7 499.3 340.3 498.2 344.9C497.3 348.5 496.5 351.2 495.4 354.7C494.6 357.3 495.5 360.9 493 362C488.7 363.9 484.6 362.4 480 361.5C472.6 360 467.2 357.7 460 355.5C452.8 353.3 447 352.1 440 349.5C437.8 348.7 435.4 348.2 434.5 346C433.4 343.3 434.8 340.8 435.4 337.9C436 335 437 332.8 438 330C439 327.3 440.1 325.3 441 322.6C442.2 318.8 443.2 315.8 443.8 311.9C444.5 306.9 440.5 301 444.5 298Z"/>
<path class="hl" d="M494.7 325.4C494.3 328.9 494 331.6 493.5 335C492.7 340.6 492 344.9 491.2 350.5"/>
<path class="post rp" d="M401 256C401.6 258.8 403.5 260.4 404.8 262.9C405.7 264.6 407.3 265.9 406.9 267.8C406.4 270.1 402.7 272.7 402.7 272.7C402.7 272.7 402.1 276.1 400.6 276.9C398.8 277.9 395 276.9 395 276.9C395 276.9 394.3 280.2 392.9 281.1C391.2 282.2 387.3 281.8 387.3 281.8C387.3 281.8 382.2 284.7 381.1 287.5C380 290.1 380.3 292.9 381.8 295.4C383.4 298 385.8 299.5 388.7 300.3C391.6 301.1 394.1 300.3 397.1 299.6C399.7 299 401.6 297.8 404.1 296.8C407.1 295.6 409.6 294.9 412.5 293.3C415.2 291.8 417.4 290.6 419.5 288.4C420.7 287.1 420.5 285.4 421.5 284C422.7 282.3 423.4 279.3 425.5 279.7C428.7 280.3 429.3 284.1 432 286C434.6 287.9 436.8 290 440 290C443.2 290 447.1 289.1 448 286C450.4 277.7 450.7 270.2 448 262C446.7 258 442.1 256.7 438 256C433.4 255.3 429.6 260 425.3 258.3C422.4 257.2 423.4 253 422.5 250C421.7 247.2 422.8 244 420.7 242C418.4 239.8 415 238.7 412 240C407.3 242 404.9 245.8 402 250C400.8 251.8 400.5 253.9 401 256Z"/>
<path class="bone rb" d="M446 249C449.4 245.3 455 248.8 460 248.5C467.2 248.1 472.8 247.5 480 247C487.2 246.5 492.8 245.4 500 245.5C502.8 245.6 505.4 245.7 507.5 247.5C509.2 249 509.4 251.2 509.3 253.5C509.2 256.3 507.7 258.3 507 261C506.2 264.2 505.4 266.7 505.2 270C505 272.2 505.6 273.8 505.9 276C506.4 279.2 507 281.7 507.3 285C507.6 288.9 508 292.1 507.6 296C507.3 298.6 507.9 302 505.5 303C500.4 305.2 495.6 303.8 490 303.5C482.8 303.1 477.2 301.9 470 301C462.8 300.1 457 300.2 450 298.5C448 298 446.1 297 445.5 295C444.5 291.9 445.6 289.2 446 286C446.5 282 447.6 279 447.9 275C448.2 270.3 447.8 266.7 447.5 262C447.2 257.3 442.8 252.5 446 249Z"/>
<path class="hl" d="M500.3 264.6C500.4 267.3 500.4 269.3 500.5 272C500.6 275.5 500.8 278.3 501 281.8"/>
<path class="post rp" d="M399.9 216.5C401.4 219.7 404.1 221.5 404.8 224.9C405.2 227 404.2 228.9 402.7 230.5C399.7 233.7 396.5 235.2 392.9 237.6C389.5 239.8 386.2 240.7 383.2 243.4C381.5 244.9 380.4 246.7 380.4 249C380.4 251.7 381.3 254 383.2 256C385.1 258 387.4 259 390.1 259.4C392.6 259.8 394.8 259.1 397.1 258C398.5 257.3 399.9 254.6 399.9 254.6C399.9 254.6 403.8 254.4 405.5 253.2C406.9 252.2 407.6 249 407.6 249C407.6 249 410.8 250.2 412.5 249.7C414.4 249.1 416.7 246.2 416.7 246.2C416.7 246.2 419.7 242.8 420.9 240.6C421.9 238.7 421.3 236.7 422.5 235C423.5 233.6 424.9 232.2 426.5 232.7C429.1 233.5 429.7 236.4 432 238C434.7 239.8 436.8 242 440 242C443.2 242 446.9 241 448 238C450.2 231.9 449.8 226.2 448 220C446.7 215.6 444.4 211.3 440 210C434.7 208.5 430.5 212.9 425 213.5C423.3 213.7 421.8 213.1 420.4 212.2C418.1 210.7 416.4 209.3 415 207C413.5 204.4 414.7 201 412.5 199C410.5 197.2 407.2 196.4 405 198C401 201 399.3 205.2 398 210C397.4 212.4 398.9 214.3 399.9 216.5Z"/>
<path class="bone rb" d="M440.5 201C446.5 196.7 452.9 197 460 195C467.1 193 472.8 191.8 480 190C485.8 188.6 490.1 185.8 496 186C498 186.1 498.7 188.6 499.3 190.5C500.5 194.2 500.4 197.4 501 201.3C502 207.3 502.3 212.1 503.8 218C504.6 221.1 506.3 223.2 507.5 226.2C508.5 228.8 510 230.7 510 233.5C510 236.3 509.9 239.5 507.5 241C501.9 244.5 496.4 244.8 490 246C482.9 247.3 477.2 247.4 470 248C462.8 248.6 457.2 250.1 450 249.5C448.1 249.3 446.5 247.8 446 246C444.9 242.2 445.5 239 445.7 235C445.8 232.8 446.7 231.3 446.7 229.1C446.8 224 447.1 220 446 215C445.4 212.2 443.1 210.7 442 208C441.1 205.6 438.4 202.5 440.5 201Z"/>
<path class="hl" d="M496 198C496.5 201.2 496.9 203.8 497.5 207C498.2 210.6 498.8 213.4 499.5 217C500.1 220.2 500.5 222.8 501 226"/>
<path class="post rp" d="M425.2 160.4C423 159.8 420.9 160.7 418.9 161.8C414.5 164.2 412.7 169.8 407.7 170.1C403.4 170.4 401.6 165.4 397.9 163.2C395.6 161.9 393.7 160.4 391 160.4C388.7 160.4 386.8 161.5 385.4 163.2C383.3 165.7 382.2 168.3 381.9 171.5C381.7 173.6 382.6 175.5 384 177.1C386 179.4 388.8 179.9 391 182C392.1 183 393 185.5 393 185.5C393 185.5 389.9 186.7 389.6 188.3C389.3 190 391.8 192.6 391.8 192.6C391.8 192.6 387.4 194.3 386 196.3C385.4 197.2 387.3 199.1 387.3 199.1C387.3 199.1 383.8 200.4 382.5 201.9C382 202.5 383.2 204 383.2 204C383.2 204 378.7 204.5 376.9 206.1C375.1 207.8 374.1 209.9 374.1 212.3C374.1 215 375 217.3 376.9 219.3C379.1 221.6 381.5 223.1 384.6 223.5C387.7 223.9 390.1 222.8 392.9 221.4C395.8 219.9 397.6 218 399.9 215.8C402.6 213.2 404.3 210.9 406.9 208.2C408.9 206.1 411.3 205.2 412.5 202.6C413.3 200.7 411.8 199 411.9 196.9C412 194.7 412 192.9 413 191C413.5 190 414.5 189.1 415.7 189.2C417.3 189.3 418.2 190.6 419.6 191.5C422 193.1 423.2 195.4 426 196C429.5 196.8 434.1 198.1 436 195C438.9 190.4 437.1 185.3 436 180C434.9 174.3 432.8 170.1 430 165C428.8 162.9 427.5 161.1 425.2 160.4Z"/>
<path class="bone rb" d="M425.5 157C427.7 151.6 434.7 152.1 440 149.5C447.2 146 452.8 143.4 460 140C466.5 136.9 471.1 133.4 478 131.5C479.5 131.1 480.7 132.7 481.5 134C482.7 135.9 482.8 137.8 483.4 140C484.5 143.6 485.1 146.4 486.2 150C487.6 154.5 488.6 158.1 490.4 162.5C491.8 166 493.6 168.5 495 172C495.7 173.7 496.2 175.2 496 177C495.8 178.9 495.6 180.8 494 182C489.5 185.4 485.3 187.1 480 189C473 191.6 467.2 192.5 460 194.5C453.5 196.3 448.7 198.8 442 199.5C440.2 199.7 438.5 198.5 437.5 197C436.3 195.2 436.7 193.2 436.3 191.1C435.7 187.6 435.7 184.8 434.9 181.3C434 177.2 433 174 431.5 170.1C429.6 165.3 423.5 161.8 425.5 157Z"/>
<path class="hl" d="M475 140C475.9 142.9 476.6 145.1 477.5 148C478.6 151.2 479.4 153.8 480.5 157C481.5 160 482.4 162.3 483.4 165.3"/>
<path class="rdisc" d="M413.9 338.2L414.5 338.4L415.2 338.6L415.8 338.8L416.4 339L417 339.2L417.6 339.4L418.2 339.6L418.7 339.7L419.3 339.9L419.9 340.1L420.5 340.3L421 340.5L421.6 340.6L422.2 340.8L422.7 341L423.3 341.2L423.9 341.3L424.4 341.5L425 341.7L425.5 341.9L426.1 342L426.7 342.2L427.2 342.4L427.8 342.6L428.4 342.7L428.9 342.9L429.5 343.1L430.1 343.2L430.8 342.9L431.5 342.7L432.2 342.5L432.9 342.3L433.6 342.3L434.2 342.4L434.8 342.7L435.4 343.2L436.2 344.2L437.1 345.2L438 345.8L439.2 345.8L440.4 345.4L441.7 344.8L443 344L444.2 343.5L445.3 343.4L446.3 343.7L447.2 344.5L447.9 345.6L448.6 346.8L449.3 348L450.1 349L450.9 349.6L452 349.7L453.1 349.4L454.3 348.9L455.5 348.2L456.8 347.6L457.9 347.3L459 347.4L459.9 347.9L460.7 348.8L461.4 350L462.1 351.3L462.8 352.5L463.7 353.3L464.7 353.6L465.8 353.5L467.1 353L468.5 352.3L469.8 351.7L471.1 351.3L472.3 351.5L472.9 351.8L473.4 352.3L473.9 353L474.4 353.7L474.8 354.5L475.2 355.3L475.6 356.1L476 356.7L476.5 357.3L477 357.7L477.6 357.9L478.2 358L478.9 357.9L479.6 357.8L480.3 357.5L481.1 357.2L481.9 356.8L482.6 356.5L483.4 356.2L484.1 356L484.7 356L485.3 356.1L485.9 356.3L486.4 356.6L486.9 357.2L487.3 357.8L487.6 358.5L488 359.3L488.3 360.2L488.7 361L489.2 361.6L489.7 362L490.3 362.3L490.9 362.5L491.5 362.6L492.1 362.8L493.3 363.5L494.1 364.5L494.4 365.8L494.2 367.1L493.5 368.3L492.5 369.1L491.2 369.4L489.9 369.2L489.2 368.9L488.6 368.7L488 368.4L487.4 368.2L486.7 368.2L486 368.4L485.2 368.7L484.3 369.2L483.6 369.6L482.8 369.9L482.1 370.1L481.4 370.2L480.8 370.1L480.2 369.9L479.7 369.6L479.2 369.1L478.8 368.5L478.5 367.8L478.1 367.1L477.7 366.3L477.4 365.6L477 364.9L476.6 364.3L476.1 363.9L475.6 363.6L475 363.4L474.4 363.4L473.7 363.5L472.9 363.8L472.2 364.1L471.4 364.5L470.6 364.9L469.8 365.3L469.1 365.5L468.4 365.6L467.7 365.5L466.8 365L465.9 364L465.2 362.7L464.5 361.3L463.7 360.2L462.9 359.4L461.8 359.2L460.7 359.4L459.5 359.9L458.2 360.6L456.9 361.2L455.8 361.6L454.7 361.5L453.8 361L453.1 360.2L452.4 359L451.7 357.8L451 356.6L450.2 355.8L449.3 355.3L448.2 355.4L447 355.7L445.8 356.4L444.5 357.1L443.3 357.6L442.2 357.8L441.2 357.5L440.3 356.8L439.6 355.7L438.8 354.4L438.1 353.1L437.3 352.1L436.3 351.5L435.2 351.5L433.9 351.9L432.6 352.2L431.9 352.3L431.3 352.2L430.7 352L430.1 351.6L429.6 351L429.2 350.5L428.7 349.9L428.2 349.3L427.7 349L427.1 348.8L426.5 348.7L426 348.5L425.4 348.3L424.8 348.1L424.3 347.9L423.7 347.8L423.1 347.6L422.6 347.4L422 347.3L421.5 347.1L420.9 346.9L420.3 346.7L419.8 346.6L419.2 346.4L418.6 346.2L418.1 346L417.5 345.8L416.9 345.7L416.3 345.5L415.7 345.3L415.1 345.1L414.5 344.9L413.9 344.7L413.3 344.5L412.7 344.4L412.1 344.2L411 343.6L410.3 342.6L409.9 341.5L410 340.3L410.6 339.2L411.6 338.5L412.7 338.1Z"/>
<path class="rdisc" d="M424.7 293.4L425.3 293.5L425.9 293.5L426.5 293.5L427.1 293.6L427.7 293.6L428.3 293.7L428.8 293.7L429.4 293.7L430 293.8L430.5 293.8L431.1 293.8L431.7 293.9L432.2 293.9L432.8 293.9L433.3 294L433.9 294L434.4 294L435 294.1L435.5 294.1L436.1 294.1L436.6 294.2L437.2 294.2L437.7 294.3L438.3 294.3L438.8 294.3L439.4 294.4L440 294.4L440.6 294.3L441.2 294L441.8 293.6L442.4 293.2L443.1 292.8L443.7 292.5L444.3 292.4L445 292.4L445.6 292.6L446.6 293.3L447.5 294.4L448.4 295.2L449.4 295.5L450.5 295.3L451.6 294.7L452.6 293.8L453.7 293L454.8 292.2L455.8 291.9L456.8 291.9L457.7 292.4L458.6 293.2L459.4 294.3L460.2 295.3L461.1 296.3L462 296.8L462.9 297L463.9 296.8L464.9 296.2L466 295.4L467 294.6L468.1 293.9L469.1 293.5L470 293.6L470.9 294L471.8 294.9L472.7 296L473.5 297.1L474.4 298L475.3 298.6L476.3 298.7L477.4 298.4L478.5 297.7L479.7 296.7L480.8 295.9L481.7 295.4L482.5 295.2L483.2 295.3L483.9 295.6L484.6 296.1L485.2 296.9L485.9 297.7L486.5 298.5L487.1 299.3L487.7 299.9L488.4 300.3L489.1 300.5L489.8 300.4L490.5 300.2L491.3 299.8L492 299.2L492.8 298.6L493.6 298L494.4 297.5L495.1 297.2L495.8 297L496.5 297.1L497.2 297.4L497.8 297.9L498.4 298.6L499 299.4L499.6 300.2L500.2 301L500.8 301.6L501.5 302.1L502.2 302.2L503 302.2L503.7 302.1L504.5 302L505.2 302.1L506 302.4L507.2 302.9L508.2 303.7L508.8 304.9L508.9 306.3L508.4 307.5L507.6 308.5L506.4 309.1L505 309.2L504.2 309.3L503.5 309.2L502.8 308.9L502.1 308.6L501.4 308.4L500.6 308.3L499.9 308.6L499.1 309L498.3 309.6L497.5 310.2L496.7 310.8L495.9 311.3L495.2 311.6L494.5 311.7L493.8 311.6L493.1 311.3L492.5 310.7L491.9 310L491.3 309.3L490.7 308.5L490.2 307.7L489.6 307.1L488.9 306.7L488.2 306.4L487.5 306.4L486.8 306.7L486 307.1L485.2 307.6L484.4 308.3L483.6 308.9L482.8 309.4L482.1 309.8L481.3 309.9L480.6 309.8L479.9 309.4L479.2 308.7L478.3 307.6L477.4 306.4L476.5 305.4L475.5 304.8L474.5 304.7L473.5 305L472.4 305.7L471.3 306.6L470.2 307.4L469.1 308L468.1 308.2L467.2 308L466.3 307.4L465.5 306.4L464.7 305.4L463.9 304.3L463 303.5L462.1 303L461.2 303L460.2 303.3L459.2 304L458.1 304.9L457.1 305.7L456 306.3L455.1 306.5L454.1 306.4L453.2 305.8L452.4 304.8L451.5 303.7L450.7 302.7L449.7 301.8L448.8 301.4L447.8 301.5L446.7 302.1L445.5 302.9L444.4 303.4L443.8 303.5L443.2 303.4L442.7 303.1L442.1 302.7L441.6 302.2L441.1 301.7L440.6 301.2L440 300.8L439.5 300.6L438.9 300.6L438.4 300.5L437.8 300.5L437.3 300.4L436.7 300.4L436.2 300.4L435.6 300.3L435.1 300.3L434.6 300.3L434 300.2L433.5 300.2L432.9 300.2L432.4 300.1L431.8 300.1L431.3 300.1L430.7 300L430.2 300L429.6 299.9L429 299.9L428.4 299.9L427.9 299.8L427.3 299.8L426.7 299.8L426.1 299.7L425.5 299.7L424.9 299.6L424.3 299.6L423.1 299.3L422.2 298.5L421.6 297.5L421.4 296.3L421.7 295.1L422.5 294.2L423.5 293.6Z"/>
<path class="rdisc" d="M425.1 246.2L425.7 246.2L426.4 246.2L427 246.3L427.6 246.3L428.3 246.3L428.9 246.3L429.5 246.4L430.1 246.4L430.7 246.4L431.3 246.5L431.9 246.5L432.5 246.5L433 246.6L433.6 246.6L434.2 246.6L434.8 246.6L435.3 246.7L435.9 246.7L436.5 246.7L437 246.7L437.6 246.8L438.2 246.8L438.7 246.8L439.3 246.8L439.9 246.8L440.4 246.9L441 246.9L441.6 246.6L442.2 246.2L442.8 245.7L443.3 245.2L443.9 244.7L444.5 244.3L445.1 244.1L445.7 244L446.3 244.2L447.3 244.9L448.3 245.9L449.3 246.5L450.3 246.7L451.2 246.5L452.1 245.8L453 244.9L453.8 243.8L454.7 242.9L455.5 242.2L456.4 241.9L457.3 242.1L458.3 242.6L459.2 243.3L460.2 244.2L461.1 245L462.1 245.6L463 245.8L463.9 245.6L464.7 245L465.5 244.2L466.3 243.2L467.2 242.2L468 241.4L468.8 240.9L469.8 240.8L470.7 241.1L471.7 241.8L472.7 242.6L473.8 243.5L474.8 244.2L475.8 244.5L476.8 244.4L477.7 243.8L478.6 242.9L479.5 241.8L480.2 240.9L481 240.2L481.7 239.7L482.5 239.5L483.3 239.7L484.1 240.1L484.9 240.7L485.7 241.4L486.5 242.1L487.3 242.7L488.1 243.1L488.9 243.3L489.6 243.2L490.3 242.9L491 242.3L491.6 241.6L492.2 240.8L492.9 239.9L493.5 239.2L494.2 238.7L494.9 238.3L495.6 238.3L496.4 238.5L497.2 238.9L498 239.5L498.8 240.2L499.6 240.9L500.4 241.4L501.2 241.8L502 242L502.7 241.8L503.5 241.4L504.2 241L505 240.8L505.8 240.8L506.7 241.1L508 241.2L509.2 241.9L510 242.9L510.4 244.2L510.3 245.5L509.6 246.7L508.6 247.5L507.3 247.9L506.6 248.3L505.8 248.5L505 248.4L504.2 248.2L503.4 248L502.6 248L501.9 248.3L501.2 248.8L500.5 249.6L499.8 250.4L499.2 251.2L498.5 252L497.8 252.6L497.1 252.9L496.4 253L495.7 252.8L494.9 252.4L494.1 251.8L493.3 251.2L492.5 250.5L491.7 249.9L491 249.5L490.2 249.3L489.5 249.3L488.8 249.7L488.1 250.2L487.4 251L486.7 251.8L486 252.7L485.3 253.4L484.6 254L483.9 254.3L483.1 254.3L482.2 253.9L481.4 253.4L480.5 252.6L479.4 251.7L478.3 250.9L477.3 250.5L476.4 250.6L475.4 251.1L474.6 252L473.7 253L472.9 254.1L472 254.9L471.2 255.4L470.3 255.5L469.3 255.2L468.3 254.5L467.3 253.7L466.4 252.9L465.4 252.2L464.4 251.8L463.5 251.8L462.7 252.2L461.8 252.9L461 253.8L460.2 254.9L459.3 255.8L458.4 256.4L457.5 256.7L456.6 256.5L455.6 256L454.6 255.2L453.6 254.3L452.6 253.4L451.6 252.9L450.6 252.7L449.6 253L448.7 253.8L447.7 254.8L446.7 255.6L446 255.8L445.4 255.8L444.7 255.6L444 255.2L443.4 254.7L442.8 254.2L442.1 253.7L441.5 253.3L440.9 253.1L440.3 253.1L439.7 253L439.1 253L438.5 253L437.9 253L437.4 253L436.8 252.9L436.2 252.9L435.6 252.9L435 252.9L434.4 252.8L433.9 252.8L433.3 252.8L432.7 252.7L432.1 252.7L431.6 252.7L431 252.7L430.4 252.6L429.8 252.6L429.2 252.6L428.6 252.5L428 252.5L427.4 252.5L426.8 252.5L426.2 252.4L425.5 252.4L424.9 252.4L423.7 252.1L422.7 251.4L422.1 250.4L421.9 249.2L422.2 248L422.9 247L423.9 246.4Z"/>
<path class="rdisc" d="M418.3 201.5L418.9 201.3L419.6 201.2L420.2 201.1L420.8 200.9L421.3 200.8L421.9 200.7L422.5 200.6L423.1 200.4L423.7 200.3L424.2 200.2L424.8 200.1L425.3 199.9L425.9 199.8L426.4 199.7L427 199.6L427.6 199.5L428.1 199.3L428.6 199.2L429.2 199.1L429.7 199L430.3 198.9L430.8 198.7L431.4 198.6L431.9 198.5L432.5 198.4L433.1 198.2L433.6 198L434.1 197.5L434.5 196.9L435 196.3L435.5 195.8L436 195.3L436.5 195L437.1 194.8L437.7 194.8L438.4 195.1L439.5 195.7L440.6 196.2L441.6 196.3L442.4 196L443.2 195.3L443.8 194.3L444.4 193.1L445.1 192.1L445.7 191.2L446.5 190.6L447.3 190.4L448.2 190.7L449.2 191.2L450.3 191.8L451.3 192.5L452.3 193L453.2 193.3L454.1 193.2L454.8 192.7L455.5 191.9L456.1 190.9L456.7 189.8L457.3 188.8L457.9 188L458.7 187.5L459.5 187.4L460.5 187.6L461.5 188.2L462.6 188.9L463.7 189.6L464.7 190L465.7 190.2L466.5 189.9L467.3 189.2L468 188.1L468.7 186.9L469.3 185.9L469.9 185L470.6 184.5L471.4 184.3L472.2 184.4L473.1 184.8L474.1 185.4L475 186L476 186.6L476.9 187L477.7 187.1L478.4 187L479.1 186.5L479.7 185.8L480.2 184.9L480.7 183.9L481.3 183L481.8 182.2L482.4 181.6L483.1 181.3L483.9 181.2L484.7 181.5L485.6 182L486.5 182.6L487.5 183.2L488.4 183.7L489.3 184L490.1 184L490.8 183.8L491.4 183.2L492.1 182.5L492.7 181.9L493.5 181.5L494.3 181.5L495.2 181.7L496.2 182.1L497.5 182L498.7 182.5L499.7 183.4L500.3 184.6L500.4 185.9L499.9 187.1L499 188.1L497.8 188.7L497.2 189.5L496.5 190.2L495.7 190.5L494.9 190.5L494.1 190.3L493.2 190L492.3 189.8L491.5 189.9L490.8 190.3L490.2 191L489.7 191.9L489.1 192.8L488.6 193.8L488 194.6L487.4 195.3L486.7 195.6L486 195.7L485.2 195.4L484.3 195L483.4 194.4L482.5 193.8L481.6 193.3L480.7 192.9L479.9 192.8L479.2 193L478.5 193.5L477.9 194.3L477.4 195.3L476.8 196.3L476.3 197.2L475.7 198L475 198.5L474.2 198.7L473.3 198.6L472.4 198.1L471.3 197.5L470.2 196.7L469.1 196.1L468.1 195.9L467.2 196L466.4 196.6L465.7 197.5L465.1 198.7L464.5 199.8L463.9 200.8L463.2 201.5L462.4 201.8L461.5 201.7L460.5 201.3L459.5 200.7L458.4 200L457.4 199.4L456.4 199.1L455.6 199L454.8 199.3L454.1 200L453.5 200.9L452.9 202L452.3 203.1L451.6 204L450.9 204.7L450.1 204.9L449.1 204.8L448.1 204.3L447.1 203.6L446 202.9L444.9 202.3L443.9 202.1L443 202.2L442.2 202.7L441.5 203.7L440.8 204.7L440.2 205.2L439.7 205.6L439.1 205.7L438.4 205.6L437.7 205.4L437 205.2L436.4 204.8L435.7 204.5L435 204.3L434.4 204.3L433.9 204.4L433.3 204.5L432.7 204.7L432.2 204.8L431.6 204.9L431.1 205L430.5 205.2L430 205.3L429.4 205.4L428.9 205.5L428.3 205.6L427.8 205.8L427.2 205.9L426.7 206L426.1 206.1L425.5 206.2L425 206.4L424.4 206.5L423.8 206.6L423.2 206.7L422.7 206.9L422.1 207L421.5 207.1L420.9 207.3L420.3 207.4L419.7 207.5L418.5 207.6L417.3 207.1L416.5 206.3L416 205.2L415.9 204L416.4 202.8L417.2 202Z"/>
<path class="rdisc" d="M423.2 156.5Q422.4 152.3 424.6 150.4L476 124.6Q478.8 124.4 479.8 127.2L479.8 132.2C479.4 133.4 479.8 134.9 478.7 135.4C477.5 136 476.6 134.8 475.4 134.4C474.2 134 473.2 132.8 472.1 133.3C471 133.9 471.4 135.4 471 136.6C470.6 137.8 470.9 139.3 469.8 139.8C468.7 140.4 467.7 139.2 466.6 138.8C465.4 138.4 464.4 137.2 463.3 137.7C462.2 138.3 462.5 139.8 462.1 141C461.7 142.1 462.1 143.7 461 144.2C459.9 144.8 458.9 143.5 457.7 143.2C456.5 142.8 455.6 141.6 454.4 142.1C453.3 142.7 453.7 144.2 453.3 145.3C452.9 146.5 453.3 148 452.2 148.6C451 149.1 450.1 147.9 448.9 147.5C447.7 147.2 446.7 145.9 445.6 146.5C444.5 147 444.9 148.6 444.5 149.7C444.1 150.9 444.4 152.4 443.3 153C442.2 153.5 441.2 152.3 440.1 151.9C438.9 151.5 437.9 150.3 436.8 150.9C435.7 151.4 436 152.9 435.6 154.1C435.2 155.3 435.6 156.8 434.5 157.4C433.4 157.9 432.4 156.7 431.2 156.3C430 155.9 429.1 154.7 427.9 155.3C426.8 155.8 427.2 157.3 426.8 158.5Z"/>
<clipPath id="cn4"><path d="M422.3 329.2L488.3 367.8L427.7 471.4L361.7 432.8Z"/></clipPath><linearGradient id="rn4" gradientUnits="userSpaceOnUse" x1="424.4" y1="325.7" x2="447.4" y2="388.7"><stop offset="0" stop-color="#ec5535"/><stop offset=".4" stop-color="#f28468"/><stop offset="1" stop-color="#fac8bb"/></linearGradient><g clip-path="url(#cn4)"><path d="M430.5 317.9L430.7 318.7L430.8 319.4L431 320.1L431.2 320.8L431.3 321.5L431.5 322.2L431.6 323L431.8 323.7L431.9 324.1L432 324.5L432.1 324.9L432.2 325.4L432.4 325.9L432.5 326.5L432.6 327.2L432.8 327.8L433 329.3L433.2 330.7L433.4 332L433.6 333.4L433.7 334.7L433.9 336.1L434.1 337.6L434.2 339.1L434.4 340.8L434.5 342.4L434.5 344L434.6 345.5L434.7 346.9L434.8 348.3L434.8 349.7L435 351.2L435.1 352.6L435.2 354L435.4 355.3L435.5 356.5L435.6 357.6L435.8 358.7L436 359.8L436.3 361L436.6 362.3L436.9 363.5L437.3 364.6L437.6 365.7L438 366.8L438.4 367.8L438.9 369L439.5 370.1L440 371.2L440.6 372.2L441.1 373.1L441.7 374L442.3 374.9L443 375.8L443.8 376.7L444.6 377.7L445.3 378.5L446 379.2L446.8 379.9L447.6 380.6L448.5 381.4L449.5 382.2L450.5 383.1L451.6 384L453.1 386L453.7 388.3L453.4 390.8L452.1 392.9L450.1 394.4L447.8 395L445.3 394.7L443.2 393.4L442.3 392.6L441.3 391.8L440.4 391L439.4 390.2L438.4 389.3L437.3 388.3L436.2 387.2L435.2 386L434.1 384.8L433.2 383.7L432.3 382.5L431.4 381.3L430.5 380.1L429.7 378.8L428.9 377.5L428.1 376.1L427.3 374.7L426.6 373.3L425.9 371.8L425.3 370.4L424.8 369L424.2 367.5L423.8 366L423.3 364.5L422.8 362.9L422.5 361.4L422.2 359.9L421.9 358.4L421.7 357L421.5 355.6L421.3 354.3L421.1 352.8L420.9 351.2L420.7 349.5L420.5 348L420.4 346.5L420.2 345L420.1 343.6L419.9 342.2L419.7 340.7L419.5 339.4L419.3 338.1L419.1 336.9L418.9 335.7L418.7 334.5L418.4 333.2L418.2 331.9L417.9 330.6L417.8 330.3L417.8 330.1L417.7 329.8L417.6 329.5L417.5 329.1L417.3 328.7L417.2 328.1L417 327.6L416.8 326.8L416.6 326.1L416.4 325.4L416.2 324.7L416 324L415.8 323.3L415.6 322.6L415.4 321.8L415.2 318.8L416.2 315.9L418.2 313.6L421 312.3L424 312.1L426.9 313.1L429.2 315.2Z" fill="url(#rn4)" stroke="#e23a2b" stroke-width="1.4" stroke-linejoin="round"/></g><circle cx="447.4" cy="388.7" r="2.3" fill="#f7a993" stroke="#e23a2b" stroke-width="1.2"/>
<clipPath id="cn3"><path d="M426.2 280L495.2 319L436.2 423.5L367.2 384.5Z"/></clipPath><linearGradient id="rn3" gradientUnits="userSpaceOnUse" x1="428.3" y1="271" x2="463.4" y2="330.5"><stop offset="0" stop-color="#ec5535"/><stop offset=".4" stop-color="#f28468"/><stop offset="1" stop-color="#fac8bb"/></linearGradient><g clip-path="url(#cn3)"><path d="M434.9 263.6L435.1 264.4L435.2 265.2L435.3 265.9L435.4 266.6L435.5 267.3L435.6 268.1L435.7 268.8L435.9 269.6L436 270.2L436 270.7L436.1 271.1L436.1 271.4L436.1 271.6L436.1 271.6L436.1 271.6L436.1 271.5L436.4 272.6L436.8 273.6L437.1 274.6L437.6 275.6L438 276.7L438.5 278L438.9 279.3L439.4 280.7L439.9 282.2L440.3 283.6L440.7 285L441.1 286.4L441.4 287.7L441.7 289L442.1 290.3L442.4 291.8L442.8 293.2L443.2 294.7L443.5 296L443.8 297.3L444 298.4L444.3 299.5L444.7 300.7L445.1 301.8L445.5 302.9L445.9 303.9L446.3 304.9L446.7 305.8L447.1 306.8L447.6 307.7L448.2 308.6L448.8 309.6L449.4 310.7L450.1 311.6L450.7 312.6L451.4 313.4L452 314.3L452.8 315.1L453.5 316L454.4 316.9L455.1 317.7L455.8 318.3L456.5 318.9L457.2 319.5L458 320.1L458.8 320.6L459.7 321.3L460.6 321.9L461.2 322.3L461.8 322.6L462.4 322.9L463 323.3L463.8 323.6L464.6 324L465.4 324.5L466.3 324.9L468.2 326.5L469.4 328.6L469.7 331.1L469 333.4L467.4 335.3L465.3 336.5L462.8 336.8L460.5 336.1L459.7 335.7L459 335.3L458.2 334.9L457.4 334.5L456.5 334.1L455.6 333.6L454.6 333L453.6 332.4L452.5 331.6L451.5 330.9L450.5 330.2L449.5 329.4L448.5 328.6L447.5 327.7L446.5 326.8L445.4 325.9L444.3 324.8L443.3 323.7L442.3 322.7L441.4 321.6L440.4 320.4L439.5 319.3L438.6 318.1L437.8 316.8L436.9 315.6L436.2 314.4L435.4 313.1L434.8 311.9L434.1 310.7L433.5 309.4L432.9 308.1L432.3 306.7L431.7 305.2L431.2 303.6L430.7 302.2L430.3 300.8L430 299.5L429.6 298.2L429.2 296.9L428.8 295.6L428.4 294.3L428 292.9L427.6 291.6L427.2 290.3L426.8 289.1L426.4 287.9L426 286.7L425.5 285.5L425.1 284.4L424.7 283.5L424.3 282.5L423.8 281.5L423.3 280.4L422.8 279.2L422.3 277.9L421.7 276.5L421.5 275.6L421.3 274.9L421.1 274.2L421 273.6L420.9 273.1L420.9 272.8L420.8 272.5L420.8 272.3L420.6 271.6L420.5 270.8L420.3 270.1L420.2 269.4L420 268.7L419.9 268L419.7 267.2L419.6 266.5L419.6 263.4L420.8 260.6L423 258.5L425.9 257.4L428.9 257.4L431.7 258.6L433.8 260.8Z" fill="url(#rn3)" stroke="#e23a2b" stroke-width="1.4" stroke-linejoin="round"/></g><circle cx="463.4" cy="330.5" r="2.3" fill="#f7a993" stroke="#e23a2b" stroke-width="1.2"/>
<clipPath id="cn2"><path d="M428.1 233.1L499 267L447.3 375.2L376.3 341.3Z"/></clipPath><linearGradient id="rn2" gradientUnits="userSpaceOnUse" x1="429.8" y1="226.9" x2="471.8" y2="279.3"><stop offset="0" stop-color="#ec5535"/><stop offset=".4" stop-color="#f28468"/><stop offset="1" stop-color="#fac8bb"/></linearGradient><g clip-path="url(#cn2)"><path d="M435.5 218.9L435.7 219.6L435.9 220.4L436.1 221.1L436.3 221.8L436.5 222.5L436.7 223.2L436.9 223.9L437.1 224.7L437.3 225.3L437.4 225.9L437.5 226.3L437.6 226.6L437.6 226.7L437.6 226.8L437.6 226.7L437.5 226.6L438.1 227.7L438.6 228.7L439.1 229.7L439.7 230.7L440.3 231.8L441 233L441.7 234.2L442.4 235.5L443.1 237L443.8 238.5L444.4 239.8L445 241.1L445.5 242.4L446.1 243.6L446.7 244.8L447.3 246.1L448 247.5L448.7 248.9L449.4 250.2L450 251.4L450.6 252.6L451.2 253.7L451.9 254.9L452.7 256.1L453.4 257.2L454.2 258.3L454.9 259.3L455.7 260.2L456.4 261.2L457.2 262.1L458.1 263.1L459.1 264.1L460.1 265.1L461 266L461.9 266.9L462.8 267.7L463.7 268.4L464.6 269.1L465.6 269.8L466.7 270.5L467.4 270.9L468 271.2L468.8 271.5L469.6 271.8L470.6 272.2L471.7 272.5L472.9 273L474.1 273.4L476.1 274.7L477.6 276.7L478.1 279.1L477.7 281.6L476.4 283.6L474.4 285.1L472 285.6L469.5 285.2L468.5 284.8L467.5 284.4L466.5 284.1L465.4 283.7L464.2 283.3L462.9 282.7L461.5 282L460.1 281.3L458.6 280.3L457.3 279.4L456 278.4L454.7 277.4L453.5 276.4L452.4 275.4L451.2 274.3L450 273.3L448.9 272.1L447.7 271L446.6 269.9L445.6 268.7L444.6 267.5L443.6 266.3L442.6 265.1L441.6 263.7L440.6 262.3L439.6 260.8L438.8 259.4L438 258.1L437.2 256.7L436.4 255.4L435.7 254.1L434.9 252.7L434.1 251.3L433.4 249.9L432.7 248.6L432.1 247.3L431.4 246.1L430.8 244.9L430.2 243.7L429.5 242.5L428.9 241.4L428.3 240.4L427.6 239.4L427 238.4L426.3 237.3L425.5 236.1L424.8 234.9L424.1 233.5L423.6 232.6L423.3 231.8L423.1 231.1L422.9 230.5L422.7 230L422.7 229.6L422.6 229.4L422.5 229.2L422.3 228.5L422 227.7L421.8 227.1L421.5 226.4L421.3 225.7L421.1 225L420.8 224.3L420.6 223.5L420.3 220.5L421.1 217.6L423 215.2L425.7 213.8L428.7 213.4L431.6 214.3L434 216.2Z" fill="url(#rn2)" stroke="#e23a2b" stroke-width="1.4" stroke-linejoin="round"/></g><circle cx="471.8" cy="279.3" r="2.3" fill="#f7a993" stroke="#e23a2b" stroke-width="1.2"/>
<clipPath id="cn1"><path d="M418.8 191.3L493.4 214L458.4 328.8L383.8 306.1Z"/></clipPath><linearGradient id="rn1" gradientUnits="userSpaceOnUse" x1="423.1" y1="184.9" x2="458.7" y2="224.5"><stop offset="0" stop-color="#ec5535"/><stop offset=".4" stop-color="#f28468"/><stop offset="1" stop-color="#fac8bb"/></linearGradient><g clip-path="url(#cn1)"><path d="M429.1 177.1L429.2 177.9L429.4 178.6L429.6 179.4L429.7 180.1L429.9 180.8L430.1 181.5L430.2 182.2L430.4 183L430.6 183.6L430.7 184.1L430.8 184.6L430.8 184.9L430.9 185.2L430.9 185.4L430.9 185.5L431 185.6L431.3 186.5L431.6 187.4L431.9 188.3L432.3 189.1L432.6 190L433 190.8L433.3 191.7L433.8 192.6L434.3 193.9L434.9 195.1L435.4 196.2L435.8 197.2L436.3 198.2L436.8 199.1L437.3 200.1L437.8 201L438.4 201.9L439 202.8L439.6 203.6L440.2 204.4L440.9 205.2L441.6 206L442.4 206.8L443.2 207.7L444 208.6L444.9 209.5L445.7 210.3L446.5 211L447.3 211.7L448.1 212.5L449.1 213.2L450 214L450.7 214.6L451.3 215L452 215.4L452.5 215.8L453.1 216.1L453.7 216.5L454.4 216.8L455 217.1L455.5 217.2L455.9 217.4L456.4 217.5L457 217.7L457.7 217.8L458.4 218L459.3 218.2L460.2 218.4L462.4 219.4L464.1 221.3L464.9 223.6L464.8 226L463.8 228.2L461.9 229.9L459.6 230.7L457.2 230.6L456.4 230.4L455.8 230.3L455 230.1L454.2 229.9L453.3 229.7L452.3 229.4L451.2 229.1L450.1 228.7L449 228.2L448 227.7L447 227.1L446 226.6L445.1 226L444.2 225.4L443.4 224.8L442.5 224.2L441.3 223.4L440.2 222.5L439.1 221.7L438 220.9L436.9 220L435.9 219.1L434.8 218.1L433.8 217.1L432.8 216.2L431.8 215.2L430.9 214.3L429.9 213.3L429 212.2L428.1 211.1L427.2 210L426.3 208.8L425.4 207.5L424.6 206.2L423.8 204.9L423.2 203.7L422.5 202.5L421.9 201.3L421.3 200.2L420.7 199L420.2 198L419.7 197L419.2 196L418.7 195.1L418.3 194.1L417.8 193.1L417.4 192.1L416.9 191L416.6 190.2L416.4 189.5L416.2 188.9L416.1 188.3L416 187.9L415.9 187.5L415.8 187.1L415.7 186.8L415.5 186.1L415.2 185.4L415 184.7L414.8 184L414.6 183.3L414.4 182.6L414.2 181.9L414 181.1L413.8 178.1L414.8 175.2L416.8 172.9L419.5 171.6L422.6 171.4L425.5 172.4L427.7 174.4Z" fill="url(#rn1)" stroke="#e23a2b" stroke-width="1.4" stroke-linejoin="round"/></g><circle cx="458.7" cy="224.5" r="2.3" fill="#f7a993" stroke="#e23a2b" stroke-width="1.2"/>
</g>
<text class="t" x="358" y="48" font-size="30" fill="#d9482f" stroke="#d9482f" stroke-width="1.1" stroke-linejoin="round" text-anchor="middle" textLength="91" lengthAdjust="spacingAndGlyphs">SPINE</text>
<text class="t" x="358.7" y="86.2" font-size="30" fill="#d9482f" stroke="#d9482f" stroke-width="1.1" stroke-linejoin="round" text-anchor="middle" textLength="275.3" lengthAdjust="spacingAndGlyphs">OSTEOARTHRITIS</text>
<text class="t" x="130.7" y="314.7" font-size="17.5" fill="#fff" stroke="#fff" stroke-width="0.5" stroke-linejoin="round" text-anchor="middle" textLength="62.4" lengthAdjust="spacingAndGlyphs">Normal</text>
<text class="t" x="130.8" y="336.1" font-size="17.5" fill="#fff" stroke="#fff" stroke-width="0.5" stroke-linejoin="round" text-anchor="middle" textLength="47" lengthAdjust="spacingAndGlyphs">Spine</text>
<text class="t" x="578.5" y="315" font-size="17.5" fill="#fff" stroke="#fff" stroke-width="0.5" stroke-linejoin="round" text-anchor="middle" textLength="120.6" lengthAdjust="spacingAndGlyphs">Osteoarthritic</text>
<text class="t" x="578.4" y="336.1" font-size="17.5" fill="#fff" stroke="#fff" stroke-width="0.5" stroke-linejoin="round" text-anchor="middle" textLength="47" lengthAdjust="spacingAndGlyphs">Spine</text>
<text class="t" x="178.6" y="375.6" font-size="8.7" fill="#2d7fa9" stroke="#2d7fa9" stroke-width="0.3" stroke-linejoin="round" text-anchor="end" textLength="37.9" lengthAdjust="spacingAndGlyphs">Cartilage</text>
<text class="t" x="178.6" y="394.7" font-size="8.7" fill="#2d7fa9" stroke="#2d7fa9" stroke-width="0.3" stroke-linejoin="round" text-anchor="end" textLength="17.6" lengthAdjust="spacingAndGlyphs">Disc</text>
<text class="t" x="178.6" y="418.3" font-size="8.7" fill="#2d7fa9" stroke="#2d7fa9" stroke-width="0.3" stroke-linejoin="round" text-anchor="end" textLength="51.8" lengthAdjust="spacingAndGlyphs">Spinal Nerve</text>
<text class="t" x="511.5" y="375.7" font-size="8.7" fill="#2d7fa9" stroke="#2d7fa9" stroke-width="0.3" stroke-linejoin="round" text-anchor="start" textLength="123.2" lengthAdjust="spacingAndGlyphs">Damage to Bone and Cartilage</text>
<text class="t" x="511.5" y="394.8" font-size="8.7" fill="#2d7fa9" stroke="#2d7fa9" stroke-width="0.3" stroke-linejoin="round" text-anchor="start" textLength="59.1" lengthAdjust="spacingAndGlyphs">Flattened Disc</text>
<text class="t" x="511.5" y="418.4" font-size="8.7" fill="#2d7fa9" stroke="#2d7fa9" stroke-width="0.3" stroke-linejoin="round" text-anchor="start" textLength="103" lengthAdjust="spacingAndGlyphs">Compressed Spinal Nerve</text>
<path class="lead" d="M182.4 372.6L210.6 365M182.4 392.2L219.4 372.1M182.4 416L277 355"/>
<path class="lead" d="M485.2 313.1L508.2 371.4L478 356M509 387.8L475.3 361M509 414.2L426.6 354.7"/>
</svg></body></html>
